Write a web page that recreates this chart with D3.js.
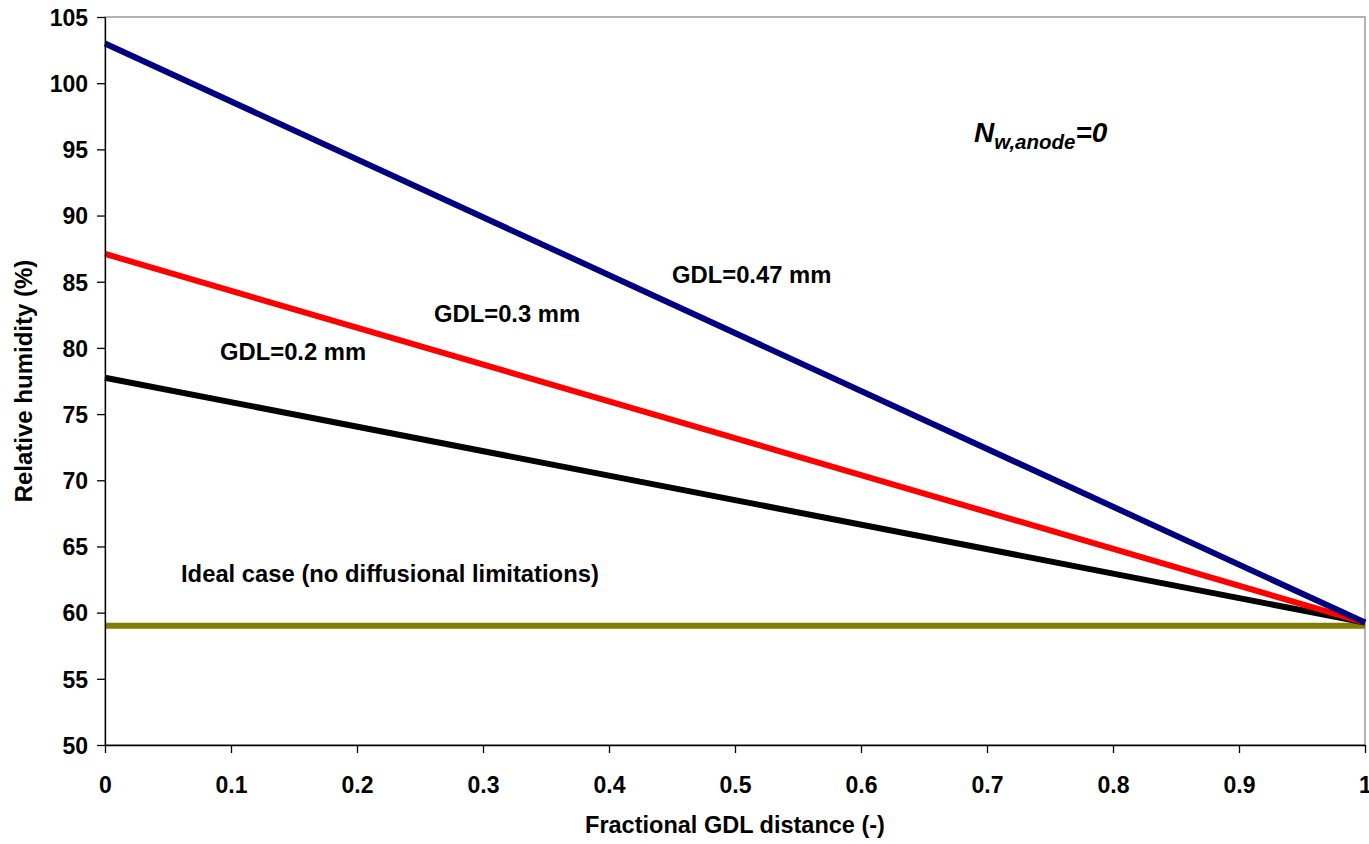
<!DOCTYPE html>
<html lang="en">
<head>
    <meta charset="UTF-8">
    <title>Relative humidity across GDL</title>
    <script src="https://d3js.org/d3.v7.min.js"></script>
    <style>
        body { margin: 0; background: #fff; }
        text { font-family: "Liberation Sans", Arial, sans-serif; font-weight: bold; fill: #000; }
        .axis path, .axis line { stroke: #000; stroke-width: 1.3px; }
        .series { fill: none; stroke-width: 6px; }
    </style>
</head>
<body>
    <script>
        // Fractional GDL distance (x) at the two ends of each line
        const distance = [0, 1];

        // Relative humidity (%)
        const rhGdl047 = [103.0, 59.25];
        const rhGdl03 = [87.1, 59.25];
        const rhGdl02 = [77.75, 59.25];
        const rhIdeal = [59.0, 59.0];

        const seriesNames = ["GDL=0.47 mm", "GDL=0.3 mm", "GDL=0.2 mm", "Ideal case (no diffusional limitations)"];
        const seriesColors = ["#000080", "#ff0000", "#000000", "#808000"];

        const xTicks = [0, 0.1, 0.2, 0.3, 0.4, 0.5, 0.6, 0.7, 0.8, 0.9, 1];
        const yTicks = [50, 55, 60, 65, 70, 75, 80, 85, 90, 95, 100, 105];

        const width = 1369, height = 844;
        const margin = { top: 17, right: 4, bottom: 99, left: 105 };

        const svg = d3.select("body").append("svg")
            .attr("width", width)
            .attr("height", height);

        const x = d3.scaleLinear().domain([0, 1]).range([margin.left, width - margin.right]);
        const y = d3.scaleLinear().domain([50, 105]).range([height - margin.bottom, margin.top]);

        // plot frame (top/right in grey)
        svg.append("rect")
            .attr("x", x(0)).attr("y", y(105))
            .attr("width", x(1) - x(0)).attr("height", y(50) - y(105))
            .attr("fill", "none").attr("stroke", "#8c8c8c").attr("stroke-width", 1.3);

        // series, drawn bottom-up so the navy line ends on top
        const allSeries = [rhIdeal, rhGdl02, rhGdl03, rhGdl047];
        const colorOf = [seriesColors[3], seriesColors[2], seriesColors[1], seriesColors[0]];
        const line = d3.line().x(d => x(d[0])).y(d => y(d[1]));
        allSeries.forEach((vals, i) => {
            svg.append("path")
                .attr("class", "series")
                .attr("stroke", colorOf[i])
                .attr("d", line(distance.map((d, j) => [d, vals[j]])));
        });

        // axes
        svg.append("g")
            .attr("class", "axis")
            .attr("transform", `translate(0,${y(50)})`)
            .call(d3.axisBottom(x).tickValues(xTicks).tickSize(8).tickSizeOuter(0)
                .tickFormat(d => d3.format("~g")(d)))
            .call(g => g.selectAll("text").attr("dy", 0).attr("y", 48).style("font-size", "23px"));

        svg.append("g")
            .attr("class", "axis")
            .attr("transform", `translate(${x(0)},0)`)
            .call(d3.axisLeft(y).tickValues(yTicks).tickSize(8).tickSizeOuter(0))
            .call(g => g.selectAll("text").attr("x", -17).attr("dy", "0.36em").style("font-size", "23px"));

        // axis titles
        svg.append("text")
            .attr("x", (x(0) + x(1)) / 2)
            .attr("y", 833)
            .attr("text-anchor", "middle")
            .style("font-size", "23.5px")
            .text("Fractional GDL distance (-)");

        svg.append("text")
            .attr("transform", `translate(32,${(y(50) + y(105)) / 2}) rotate(-90)`)
            .attr("text-anchor", "middle")
            .style("font-size", "24px")
            .text("Relative humidity (%)");

        // line annotations
        const labelPos = [[672, 283], [434, 322], [220, 360], [181, 582]];
        seriesNames.forEach((name, i) => {
            svg.append("text")
                .attr("x", labelPos[i][0])
                .attr("y", labelPos[i][1])
                .style("font-size", "23.8px")
                .text(name);
        });

        // N_w,anode = 0
        const note = svg.append("text")
            .attr("x", 974)
            .attr("y", 142)
            .style("font-style", "italic")
            .style("font-size", "28px");
        note.append("tspan").text("N");
        note.append("tspan").attr("dy", 7).style("font-size", "20.5px").text("w,anode");
        note.append("tspan").attr("dy", -7).text("=0");
    </script>
</body>
</html>
